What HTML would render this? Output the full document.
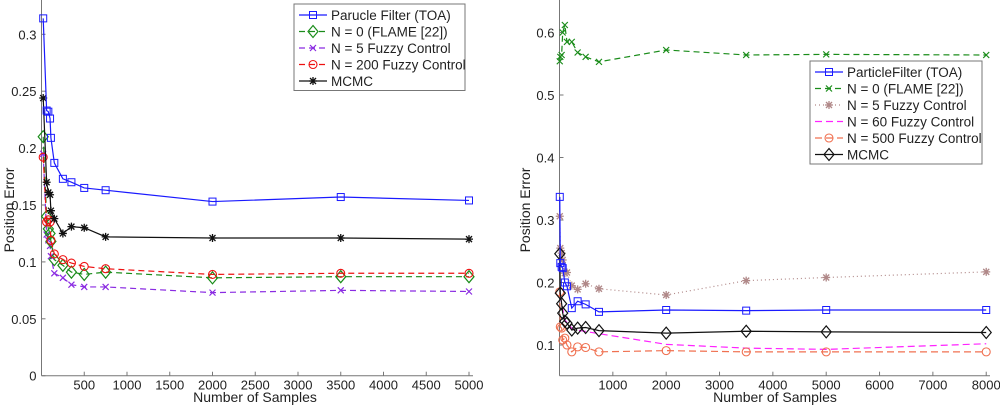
<!DOCTYPE html>
<html><head><meta charset="utf-8"><style>
body{margin:0;background:#fff;width:1000px;height:406px;overflow:hidden}
svg{font-family:"Liberation Sans",sans-serif}
</style></head><body>
<svg id="s" width="1000" height="406"></svg>
<script>
// ---- Left chart data ----
const lTicksX=[500,1000,1500,2000,2500,3000,3500,4000,4500,5000];
const lTicksY=[0,0.05,0.1,0.15,0.2,0.25,0.3];
const lX=[20,60,80,100,110,150,250,350,500,750,2000,3500,5000];
const lPF=[0.314,0.233,0.232,0.226,0.209,0.187,0.173,0.170,0.165,0.163,0.153,0.157,0.154];
const lMCMC=[0.244,0.170,0.161,0.159,0.145,0.138,0.125,0.131,0.130,0.122,0.121,0.121,0.120];
const lN0=[0.210,0.140,0.129,0.125,0.118,0.102,0.097,0.091,0.089,0.091,0.086,0.087,0.087];
const lN5=[0.195,0.124,0.119,0.114,0.105,0.090,0.086,0.080,0.078,0.078,0.073,0.075,0.074];
const lN200=[0.192,0.135,0.137,0.135,0.119,0.107,0.102,0.099,0.096,0.094,0.089,0.090,0.090];
// ---- Right chart data ----
const rTicksX=[1000,2000,3000,4000,5000,6000,7000,8000];
const rTicksY=[0.1,0.2,0.3,0.4,0.5,0.6];
const rX=[5,15,40,60,100,140,230,340,490,740,2000,3500,5000,8000];
const rN0=[0.554,0.561,0.564,0.600,0.612,0.585,0.585,0.568,0.561,0.553,0.572,0.564,0.565,0.564];
const rPF=[0.337,0.231,0.225,0.223,0.200,0.194,0.159,0.170,0.165,0.153,0.156,0.155,0.156,0.156];
const rN5=[0.306,0.255,0.247,0.236,0.215,0.216,0.195,0.189,0.198,0.190,0.180,0.203,0.208,0.217];
const rMCMC=[0.246,0.183,0.166,0.151,0.138,0.135,0.124,0.127,0.128,0.123,0.119,0.122,0.121,0.120];
const rN500=[0.185,0.129,0.127,0.108,0.111,0.100,0.089,0.097,0.096,0.089,0.091,0.089,0.089,0.089];
const rN60X=[10,100,250,750,2000,3500,5000,8000];
const rN60=[0.180,0.140,0.125,0.118,0.101,0.095,0.093,0.102];

const s=document.getElementById('s');
const NS='http://www.w3.org/2000/svg';
function el(t,a,p){const e=document.createElementNS(NS,t);for(const k in a)e.setAttribute(k,a[k]);(p||s).appendChild(e);return e;}
function txt(x,y,str,anchor,extra){const e=el('text',Object.assign({x:x,y:y,'font-size':13,fill:'#222','text-anchor':anchor||'middle'},extra||{}));e.textContent=str;return e;}

function marker(g,type,x,y,c){
  if(type==='sq') el('rect',{x:x-3.5,y:y-3.5,width:7,height:7,fill:'none',stroke:c,'stroke-width':1},g);
  else if(type==='di') el('path',{d:`M${x} ${y-6}L${x+5} ${y}L${x} ${y+6}L${x-5} ${y}Z`,fill:'none',stroke:c,'stroke-width':1.2},g);
  else if(type==='x') el('path',{d:`M${x-3} ${y-3}L${x+3} ${y+3}M${x-3} ${y+3}L${x+3} ${y-3}`,stroke:c,'stroke-width':1.2},g);
  else if(type==='o') el('circle',{cx:x,cy:y,r:4,fill:'none',stroke:c,'stroke-width':1.1},g);
  else if(type==='st') el('path',{d:`M${x-4} ${y}L${x+4} ${y}M${x} ${y-4}L${x} ${y+4}M${x-3} ${y-3}L${x+3} ${y+3}M${x-3} ${y+3}L${x+3} ${y-3}`,stroke:c,'stroke-width':1.3},g);
}
function series(name,xs,ys,fx,fy,c,dash,mk){
  const g=el('g',{});
  
  
  const pts=xs.map((v,i)=>fx(v)+','+fy(ys[i])).join(' ');
  el('polyline',{points:pts,fill:'none',stroke:c,'stroke-width':1.2,'stroke-dasharray':dash||'none'},g);
  if(mk) xs.forEach((v,i)=>marker(g,mk,fx(v),fy(ys[i]),c));
}
function legend(x,y,w,items,name){
  const g=el('g',{});
  
  
  el('rect',{x:x,y:y,width:w,height:items.length*16.5+4,fill:'#fff',stroke:'#777','stroke-width':1},g);
  items.forEach((it,i)=>{
    const yy=y+11+i*16.5;
    const e=el('g',{},g);
    
    
    el('line',{x1:x+5,y1:yy,x2:x+33,y2:yy,stroke:it[1],'stroke-width':1.2,'stroke-dasharray':it[2]||'none'},e);
    if(it[3]) marker(e,it[3],x+19,yy,it[1]);
    const t=el('text',{x:x+37,y:yy+5,'font-size':13.5,fill:'#222'},e);t.textContent=it[0];
  });
}
function axes(x0,x1,yb,fx,fy,tx,ty,fmtY,lblX,lblYx,name){
  const g=el('g',{});
  
  
  el('line',{x1:x0,y1:0,x2:x0,y2:yb,stroke:'#777','stroke-width':1},g);
  el('line',{x1:x0,y1:yb,x2:x1,y2:yb,stroke:'#777','stroke-width':1},g);
  tx.forEach(v=>{el('line',{x1:fx(v),y1:yb,x2:fx(v),y2:yb-4,stroke:'#777'},g);txt(fx(v),yb+14,String(v),'middle');});
  ty.forEach(v=>{el('line',{x1:x0,y1:fy(v),x2:x0+4,y2:fy(v),stroke:'#777'},g);txt(x0-5,fy(v)+5,fmtY(v),'end');});
  const xt=txt(lblX,402,'Number of Samples','middle',{'font-size':14});
  
  const yt=txt(0,0,'Position Error','middle',{'font-size':14,transform:`translate(${lblYx},210) rotate(-90)`});
  
}
// Left
const lfx=v=>41.5+v*0.0855, lfy=v=>375.7-v*1138;
axes(41.5,473,375.7,lfx,lfy,lTicksX,lTicksY,v=>v===0?'0':String(+v.toFixed(2)),255,14,'left-axes');
series('series-n5',lX,lN5,lfx,lfy,'#8a2be2','6,4','x');
series('series-n0',lX,lN0,lfx,lfy,'#1a8c1a','6,4','di');
series('series-n200',lX,lN200,lfx,lfy,'#ee1111','6,4','o');
series('series-mcmc',lX,lMCMC,lfx,lfy,'#111','', 'st');
series('series-particle-filter',lX,lPF,lfx,lfy,'#1a1aff','', 'sq');
legend(294,4,171,[['Parucle Filter (TOA)','#1a1aff','','sq'],['N = 0 (FLAME [22])','#1a8c1a','6,4','di'],['N = 5 Fuzzy Control','#8a2be2','6,4','x'],['N = 200 Fuzzy Control','#ee1111','6,4','o'],['MCMC','#111','','st']],'left-legend');
// Right
const rfx=v=>559.5+v*0.05334, rfy=v=>345-(v-0.1)*625;
axes(559.5,990,375.7,rfx,rfy,rTicksX,rTicksY,v=>String(+v.toFixed(1)),775,530,'right-axes');
series('series-n60',rN60X,rN60,rfx,rfy,'#ff22ff','7,4',null);
series('series-n500',rX,rN500,rfx,rfy,'#f07050','7,4','o');
series('series-n5',rX,rN5,rfx,rfy,'#b08888','1,3','st');
series('series-n0',rX,rN0,rfx,rfy,'#1a8c1a','6,4','x');
series('series-mcmc',rX,rMCMC,rfx,rfy,'#111','', 'di');
series('series-particle-filter',rX,rPF,rfx,rfy,'#1a1aff','', 'sq');
legend(810,61,172,[['ParticleFilter (TOA)','#1a1aff','','sq'],['N = 0 (FLAME [22])','#1a8c1a','6,4','x'],['N = 5 Fuzzy Control','#b08888','1,3','st'],['N = 60 Fuzzy Control','#ff22ff','7,4',null],['N = 500 Fuzzy Control','#f07050','7,4','o'],['MCMC','#111','','di']],'right-legend');
</script>
</body></html>
